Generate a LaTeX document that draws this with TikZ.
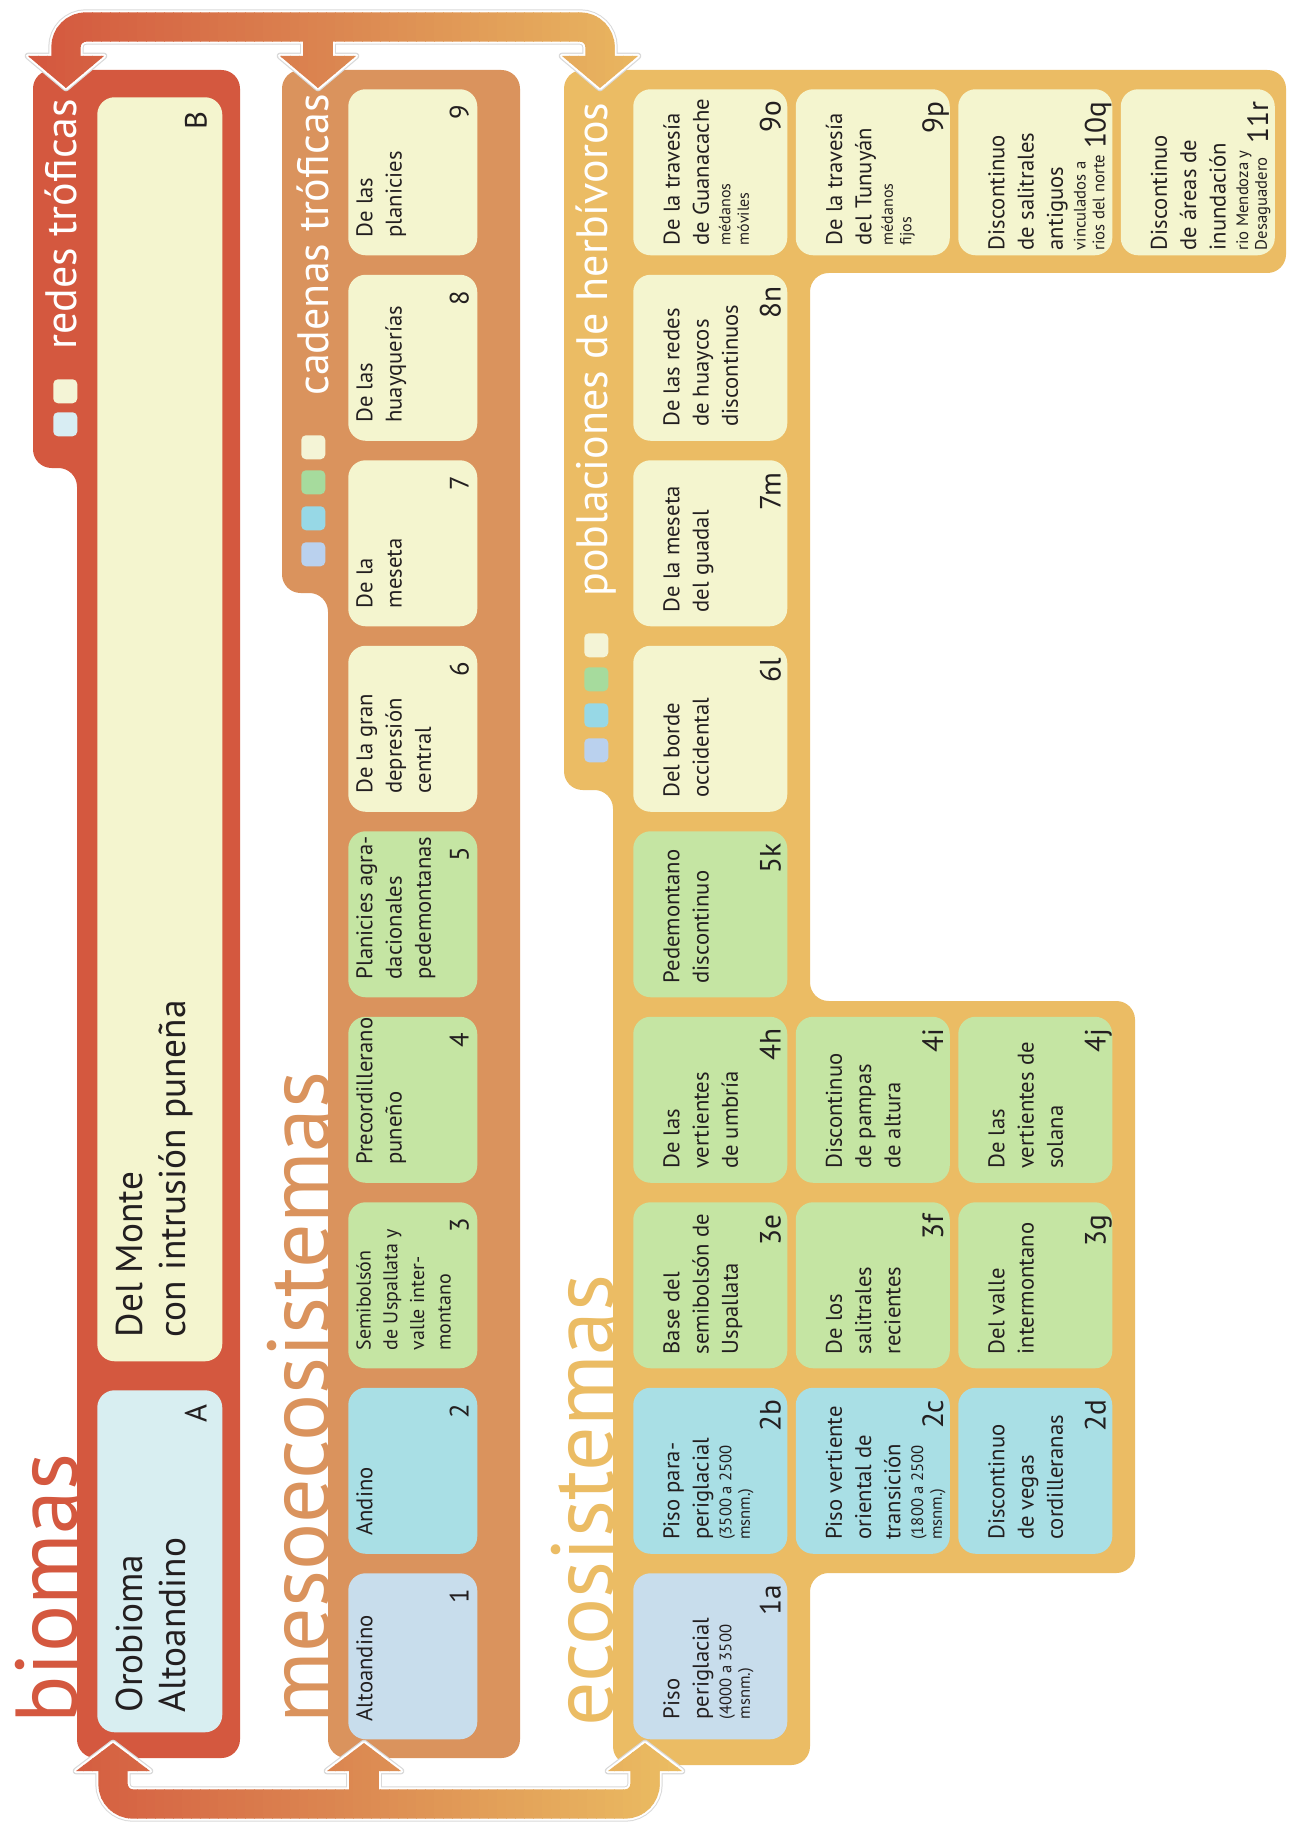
\documentclass[tikz,border=0pt]{standalone}
\usepackage{fontspec}
\setmainfont{PT Sans}
\usetikzlibrary{calc}
\definecolor{cRed}{HTML}{D4583F}
\definecolor{cOra}{HTML}{DA935D}
\definecolor{cYel}{HTML}{EBBC64}
\definecolor{gMid}{HTML}{DC8A52}
\definecolor{gEnd}{HTML}{EBBD62}
\definecolor{bCream}{HTML}{F4F5CF}
\definecolor{bGreen}{HTML}{C5E5A3}
\definecolor{bCyan}{HTML}{A9DFE5}
\definecolor{bBlue}{HTML}{C8DDEC}
\definecolor{bPale}{HTML}{D8EEF1}
\definecolor{sqCream}{HTML}{F4F4D6}
\definecolor{sqGreen}{HTML}{A6DB9D}
\definecolor{sqCyan}{HTML}{97D8E6}
\definecolor{sqBlue}{HTML}{BAD1EE}
\definecolor{sqPale}{HTML}{D8EDF3}
\definecolor{tblack}{HTML}{231F20}
\newcommand\smt{\fontsize{12.5}{14}\selectfont}
\newcommand\tny{\fontsize{12}{13}\selectfont}
\newcommand\ocell[6][]{%
  \node[cellbox, fill=#4, minimum width=96.75pt, anchor=north west] (#2) at (348,#3) {};
  \node[otxt,#1] (#2t) at ([shift={(8,-18)}]#2.south west) {#5};
  \node[onum] (#2n) at ([shift={(-9,16)}]#2.north east) {#6};
}
\newcommand\ycell[7][-14]{%
  \node[cellbox, fill=#5, minimum width=115.5pt, anchor=north west] (#2) at (#3,#4) {};
  \node[ytxt] (#2t) at ([shift={(30,#1)}]#2.south west) {#6};
  \node[ynum] (#2n) at ([shift={(-7,12)}]#2.north east) {#7};
}
\newcommand\conndraw[2]{%
  \draw[#1, rounded corners=15pt] (sT1) -- (cT1) -- (cT3) -- (sT3);
  \draw[#1] (cT2) -- (sT2);
  \draw[#1, rounded corners=15pt] (sB1) -- (cB1) -- (cB3) -- (sB3);
  \draw[#1] (cB2) -- (sB2);
  \path[#2] (aT1) -- ++(-38,-32) -- ++(76,0) -- cycle;
  \path[#2] (aT2) -- ++(-38,-32) -- ++(76,0) -- cycle;
  \path[#2] (aT3) -- ++(-38,-32) -- ++(76,0) -- cycle;
  \path[#2] (aB1) -- ++(-37,28) -- ++(74,0) -- cycle;
  \path[#2] (aB2) -- ++(-37,28) -- ++(74,0) -- cycle;
  \path[#2] (aB3) -- ++(-37,28) -- ++(74,0) -- cycle;
}
\begin{document}
\begin{tikzpicture}[x=0.75pt,y=-0.75pt,
  cellbox/.style={rounded corners=13pt, inner sep=0pt, minimum height=124.5pt, draw=none},
  otxt/.style={rotate=90, anchor=north west, inner sep=0pt, align=left, text=tblack, font=\fontsize{17}{22}\selectfont},
  ytxt/.style={rotate=90, anchor=north west, inner sep=0pt, align=left, text=tblack, font=\fontsize{17}{22}\selectfont},
  onum/.style={rotate=90, anchor=base east, inner sep=0pt, text=tblack, font=\fontsize{20}{22}\selectfont},
  ynum/.style={rotate=90, anchor=base east, inner sep=0pt, text=tblack, font=\fontsize{22}{24}\selectfont},
  rtxt/.style={rotate=90, anchor=north west, inner sep=0pt, align=left, text=tblack, font=\fontsize{28}{32}\selectfont},
  rnum/.style={rotate=90, anchor=base east, inner sep=0pt, text=tblack, font=\fontsize{23}{26}\selectfont},
  bigl/.style={rotate=90, anchor=base west, inner sep=0pt, font=\fontsize{66}{70}\selectfont},
  tabl/.style={rotate=90, anchor=base west, inner sep=0pt, text=white, font=\fontsize{33}{36}\selectfont},
  sq/.style={rounded corners=3.5pt, inner sep=0pt, minimum size=18pt, anchor=north west, draw=none}]
\useasboundingbox (0,0) rectangle (1288,1822);
\fill[white] (0,0) rectangle (1288,1822);

% panels
\fill[cRed, rounded corners=14pt] (33,70) -- (240,70) -- (240,1758) -- (77,1758) -- (77,468) -- (33,468) -- cycle;
\fill[cOra, rounded corners=14pt] (282,70) -- (520,70) -- (520,1758) -- (328,1758) -- (328,593) -- (282,593) -- cycle;
\fill[cYel, rounded corners=14pt] (564,70) -- (1286,70) -- (1286,273) -- (810,273) -- (810,1001) -- (1135,1001) -- (1135,1573) -- (810,1573) -- (810,1765) -- (613,1765) -- (613,790) -- (564,790) -- cycle;

% big labels
\node[bigl, text=cRed] (lbio) at (77,1724) {biomas};
\node[bigl, text=cOra] (lmeso) at (329,1724) {mesoecosistemas};
\node[bigl, text=cYel] (leco) at (613,1727) {ecosistemas};

% tab labels
\node[tabl] (lredes) at (76,350) {redes tróficas};
\node[tabl] (lcad) at (328,396) {cadenas tróficas};
\node[tabl] (lpob) at (607,597) {poblaciones de herbívoros};

% legend squares
\node[sq, fill=sqCream] (sqR1) at (53,379) {};
\node[sq, fill=sqPale] (sqR2) at (53,412) {};
\node[sq, fill=sqCream] (sqO1) at (301,435) {};
\node[sq, fill=sqGreen] (sqO2) at (301,470) {};
\node[sq, fill=sqCyan] (sqO3) at (301,506) {};
\node[sq, fill=sqBlue] (sqO4) at (301,542) {};
\node[sq, fill=sqCream] (sqY1) at (584,633) {};
\node[sq, fill=sqGreen] (sqY2) at (584,667) {};
\node[sq, fill=sqCyan] (sqY3) at (584,703) {};
\node[sq, fill=sqBlue] (sqY4) at (584,738) {};

% biomas
\node[cellbox, fill=bCream, minimum width=93.75pt, minimum height=948pt, anchor=north west] (B) at (97,97) {};
\node[rtxt] (Bt) at ([shift={(19,-24)}]B.south west) {Del Monte\\con intrusión puneña};
\node[rnum] (Bn) at ([shift={(-16,14)}]B.north east) {B};
\node[cellbox, fill=bPale, minimum width=93.75pt, minimum height=256.5pt, anchor=north west] (A) at (97,1390) {};
\node[rtxt] (At) at ([shift={(19,-20)}]A.south west) {Orobioma\\Altoandino};
\node[rnum] (An) at ([shift={(-16,14)}]A.north east) {A};

% mesoecosistemas
\ocell{o1}{1573}{bBlue}{Altoandino}{1}
\ocell{o2}{1387.5}{bCyan}{Andino}{2}
\ocell[font=\fontsize{15}{20}\selectfont]{o3}{1202}{bGreen}{Semibolsón\\de Uspallata y\\valle inter-\\montano}{3}
\ocell{o4}{1016.5}{bGreen}{Precordillerano\\puneño}{4}
\ocell{o5}{831}{bGreen}{Planicies agra-\\dacionales\\pedemontanas}{5}
\ocell{o6}{645.5}{bCream}{De la gran\\depresión\\central}{6}
\ocell{o7}{460}{bCream}{De la\\meseta}{7}
\ocell{o8}{274.5}{bCream}{De las\\huayquerías}{8}
\ocell{o9}{89}{bCream}{De las\\planicies}{9}

% ecosistemas
\ycell[-20]{y1a}{633}{1573}{bBlue}{Piso\\periglacial\\[-5pt]\smt(4000 a 3500\\[-8pt]\smt msnm.)}{1a}
\ycell{y2b}{633}{1387.5}{bCyan}{Piso para-\\periglacial\\[-5pt]\smt(3500 a 2500\\[-8pt]\smt msnm.)}{2b}
\ycell{y2c}{795.5}{1387.5}{bCyan}{Piso vertiente\\oriental de\\transición\\[-5pt]\smt(1800 a 2500\\[-8pt]\smt msnm.)}{2c}
\ycell{y2d}{958}{1387.5}{bCyan}{Discontinuo\\de vegas\\cordilleranas}{2d}
\ycell{y3e}{633}{1202}{bGreen}{Base del\\semibolsón de\\Uspallata}{3e}
\ycell{y3f}{795.5}{1202}{bGreen}{De los\\salitrales\\recientes}{3f}
\ycell{y3g}{958}{1202}{bGreen}{Del valle\\intermontano}{3g}
\ycell{y4h}{633}{1016.5}{bGreen}{De las\\vertientes\\de umbría}{4h}
\ycell{y4i}{795.5}{1016.5}{bGreen}{Discontinuo\\de pampas\\de altura}{4i}
\ycell{y4j}{958}{1016.5}{bGreen}{De las\\vertientes de\\solana}{4j}
\ycell{y5k}{633}{831}{bGreen}{Pedemontano\\discontinuo}{5k}
\ycell{y6l}{633}{645.5}{bCream}{Del borde\\occidental}{6l}
\ycell{y7m}{633}{460}{bCream}{De la meseta\\del guadal}{7m}
\ycell{y8n}{633}{274.5}{bCream}{De las redes\\de huaycos\\discontinuos}{8n}
\ycell[-10]{y9o}{633}{89}{bCream}{De la travesía\\de Guanacache\\[-6pt]\tny médanos\\[-8pt]\tny móviles}{9o}
\ycell[-10]{y9p}{795.5}{89}{bCream}{De la travesía\\del Tunuyán\\[-6pt]\tny médanos\\[-8pt]\tny fijos}{9p}
\ycell[-5]{y10q}{958}{89}{bCream}{Discontinuo\\de salitrales\\antiguos\\[-5pt]\smt vinculados a\\[-8pt]\smt rios del norte}{10q}
\ycell[-5]{y11r}{1120.5}{89}{bCream}{Discontinuo\\de áreas de\\inundación\\[-5pt]\smt rio Mendoza y\\[-8pt]\smt Desaguadero}{11r}

% connectors
\coordinate (aT1) at (66,88);  \coordinate (sT1) at (66,60);  \coordinate (cT1) at (66,27);
\coordinate (aT2) at (318,88); \coordinate (sT2) at (318,60); \coordinate (cT2) at (318,27);
\coordinate (aT3) at (600,88); \coordinate (sT3) at (600,60); \coordinate (cT3) at (600,27);
\coordinate (aB1) at (113,1743); \coordinate (sB1) at (113,1768); \coordinate (cB1) at (113,1804);
\coordinate (aB2) at (364,1743); \coordinate (sB2) at (364,1768); \coordinate (cB2) at (364,1804);
\coordinate (aB3) at (645,1743); \coordinate (sB3) at (645,1768); \coordinate (cB3) at (645,1804);

\conndraw{draw=black!15, line width=26.5pt}{draw=black!15, line width=5pt, line join=round, fill=black!15}
\conndraw{draw=white, line width=25pt}{draw=white, line width=3.2pt, line join=round, fill=white}
\foreach \i in {0,...,79}{
  \pgfmathsetmacro\xa{20+\i*9}
  \pgfmathsetmacro\xb{\xa+9.8}
  \pgfmathsetmacro\pa{min(100,max(0,(\xa+4.5-40)/3.2))}
  \pgfmathsetmacro\pb{min(100,max(0,(\xa+4.5-360)/3.2))}
  \colorlet{cA}{gMid!\pa!cRed}
  \colorlet{cc}{gEnd!\pb!cA}
  \begin{scope}
    \clip (\xa,0) rectangle (\xb,1822);
    \conndraw{draw=cc, line width=22pt}{fill=cc}
  \end{scope}
}
\end{tikzpicture}
\end{document}
